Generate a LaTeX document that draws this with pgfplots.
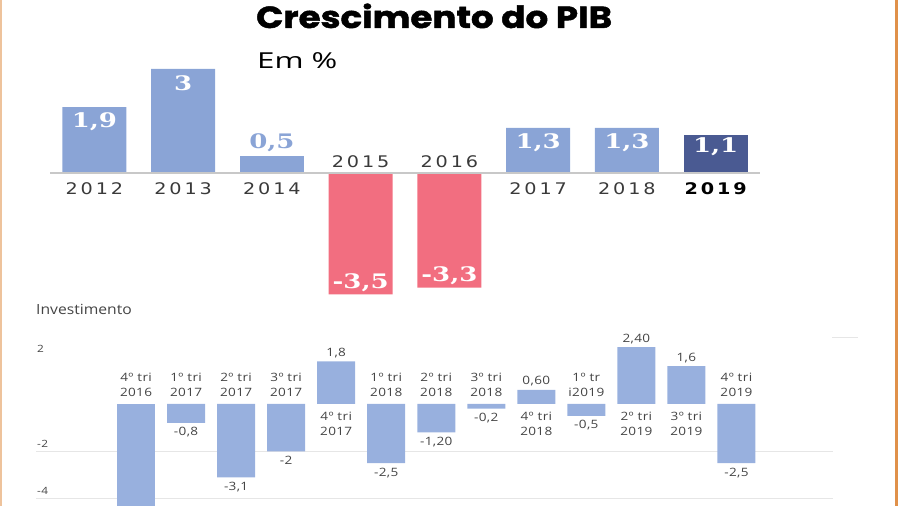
\documentclass[border=0pt]{standalone}
\usepackage{fontspec}
\setmainfont{Open Sans}
\usepackage{pgfplots}
\usepackage{pgfplotstable}
\pgfplotsset{compat=1.18}

\newfontfamily\titlefont[FakeStretch=1.17, BoldFeatures={FakeBold=1.6}]{Poppins}
\newfontfamily\subfont[FakeStretch=1.42]{Open Sans}
\newfontfamily\yearfont[FakeStretch=1.2,LetterSpace=18]{DejaVu Sans}
\newfontfamily\valfont[FakeStretch=1.3]{DejaVu Serif}
\newfontfamily\smallfont[FakeStretch=1.18,LetterSpace=3]{Open Sans}
\newfontfamily\invfont[FakeStretch=1.12]{Open Sans}

\definecolor{barblue}{HTML}{8AA4D6}
\definecolor{lowblue}{HTML}{98B0DE}
\definecolor{barred}{HTML}{F26E80}
\definecolor{bardark}{HTML}{4A5A92}
\definecolor{basegray}{HTML}{C8C8C8}
\definecolor{gridgray}{HTML}{E6E6E6}
\definecolor{txtgray}{HTML}{444444}
\definecolor{yeargray}{HTML}{3A3A3A}
\definecolor{frameorange}{HTML}{E0914A}

% PIB, % a.a.
\pgfplotstableread{
x y lab
0 1.9 1,9
1 3.0 3
5 1.3 1,3
6 1.3 1,3
}\pibblue
\pgfplotstableread{
x y lab
2 0.5 0,5
}\pibsmall
\pgfplotstableread{
x y lab
3 -3.5 -3,5
4 -3.3 -3,3
}\pibred
\pgfplotstableread{
x y lab
7 1.1 1,1
}\pibdark

% Investimento, trimestral (4o tri 2016 sai do quadro)
\pgfplotstableread{
x y
0 -4.8
}\invcut
\pgfplotstableread{
x y lab
1 -0.8 -0,8
2 -3.1 -3,1
3 -2.0 -2
5 -2.5 -2,5
6 -1.2 -1,20
7 -0.2 -0,2
9 -0.5 -0,5
12 -2.5 -2,5
}\invneg
\pgfplotstableread{
x y lab
4 1.8 1,8
8 0.6 0,60
10 2.4 2,40
11 1.6 1,6
}\invpos

\tikzset{
  yearlab/.style={font=\yearfont\fontsize{16}{16}\selectfont, text=yeargray, inner sep=0pt, anchor=center},
  catup/.style={font=\smallfont\fontsize{11.5}{15}\selectfont, text=txtgray, inner sep=0pt, anchor=south, align=center, yshift=7pt},
  catdn/.style={font=\smallfont\fontsize{11.5}{15}\selectfont, text=txtgray, inner sep=0pt, anchor=north, align=center, yshift=-8pt},
}

\begin{document}
\begin{tikzpicture}
\useasboundingbox (0,0) rectangle (900pt,506pt);
\clip (0,0) rectangle (900pt,506pt);

% moldura
\fill[frameorange] (894.5pt,0) rectangle (898pt,506pt);
\fill[frameorange!55] (0,0) rectangle (2pt,506pt);

% titulos
\node[anchor=base west, inner sep=0pt] at (256pt,478pt)
  {\titlefont\bfseries\fontsize{30.5}{31}\selectfont Crescimento do PIB};
\node[anchor=base west, inner sep=0pt] at (257pt,437pt)
  {\subfont\fontsize{22}{22}\selectfont Em \%};
\node[anchor=base west, inner sep=0pt, text=txtgray] at (36pt,191pt)
  {\invfont\fontsize{14}{14}\selectfont Investimento};

% ---- PIB ----
\begin{axis}[
  at={(50pt,194.2pt)}, anchor=south west,
  scale only axis, width=710pt, height=249.84pt,
  xmin=-0.5, xmax=7.5, ymin=-4, ymax=3.2,
  axis line style={draw=none}, tick style={draw=none},
  xtick=\empty, ytick=\empty,
  clip=false,
  ybar, bar width=64pt,
]
\addplot[fill=barblue, draw=none, bar shift=0pt,
  nodes near coords, point meta=explicit symbolic,
  every node near coord/.append style={anchor=center, yshift=-14.5pt, text=white,
    font=\valfont\bfseries\fontsize{20}{20}\selectfont}]
  table[x=x, y=y, meta=lab] {\pibblue};
\addplot[fill=barblue, draw=none, bar shift=0pt,
  nodes near coords, point meta=explicit symbolic,
  every node near coord/.append style={anchor=center, yshift=13pt, text=barblue,
    font=\valfont\bfseries\fontsize{20}{20}\selectfont}]
  table[x=x, y=y, meta=lab] {\pibsmall};
\addplot[fill=barred, draw=none, bar shift=0pt,
  nodes near coords, point meta=explicit symbolic,
  every node near coord/.append style={anchor=center, yshift=11.5pt, text=white,
    font=\valfont\bfseries\fontsize{20}{20}\selectfont}]
  table[x=x, y=y, meta=lab] {\pibred};
\addplot[fill=bardark, draw=none, bar shift=0pt,
  nodes near coords, point meta=explicit symbolic,
  every node near coord/.append style={anchor=center, yshift=-12pt, text=white,
    font=\valfont\bfseries\fontsize{20}{20}\selectfont}]
  table[x=x, y=y, meta=lab] {\pibdark};
\draw[basegray, line width=2pt] (axis cs:-0.5,0) -- (axis cs:7.5,0);
\node[yearlab] at (axis cs:0,0) [yshift=-16pt] {2012};
\node[yearlab] at (axis cs:1,0) [yshift=-16pt] {2013};
\node[yearlab] at (axis cs:2,0) [yshift=-16pt] {2014};
\node[yearlab] at (axis cs:3,0) [yshift=11pt] {2015};
\node[yearlab] at (axis cs:4,0) [yshift=11pt] {2016};
\node[yearlab] at (axis cs:5,0) [yshift=-16pt] {2017};
\node[yearlab] at (axis cs:6,0) [yshift=-16pt] {2018};
\node[yearlab, text=black] at (axis cs:7,0) [yshift=-16pt] {\bfseries 2019};
\end{axis}

% ---- Investimento ----
\draw[gridgray, line width=0.8pt] (832pt,169pt) -- (858pt,169pt);
\begin{axis}[
  at={(36pt,-4.65pt)}, anchor=south west,
  scale only axis, width=797pt, height=168.27pt,
  xmin=-2, xmax=13.93, ymin=-4.5, ymax=2.6,
  axis line style={draw=none}, tick style={draw=none},
  xtick=\empty,
  ytick={-4,-2}, yticklabels={-4,-2},
  extra y ticks={2}, extra y tick labels={2},
  extra y tick style={grid=none},
  ymajorgrids, major grid style={gridgray, line width=0.8pt},
  yticklabel style={anchor=west, inner sep=0pt, yshift=8pt, xshift=1pt, text=txtgray,
    font=\smallfont\fontsize{10}{10}\selectfont},
  clip=false,
  ybar, bar width=38pt,
]
\addplot[fill=lowblue, draw=none, bar shift=0pt] table[x=x, y=y] {\invcut};
\addplot[fill=lowblue, draw=none, bar shift=0pt,
  nodes near coords, point meta=explicit symbolic,
  every node near coord/.append style={anchor=north, yshift=-1pt, text=txtgray,
    font=\smallfont\fontsize{11.5}{12}\selectfont}]
  table[x=x, y=y, meta=lab] {\invneg};
\addplot[fill=lowblue, draw=none, bar shift=0pt,
  nodes near coords, point meta=explicit symbolic,
  every node near coord/.append style={anchor=south, text=txtgray,
    font=\smallfont\fontsize{11.5}{12}\selectfont}]
  table[x=x, y=y, meta=lab] {\invpos};
\node[catup] at (axis cs:0,0) {4º tri\\2016};
\node[catup] at (axis cs:1,0) {1º tri\\2017};
\node[catup] at (axis cs:2,0) {2º tri\\2017};
\node[catup] at (axis cs:3,0) {3º tri\\2017};
\node[catdn] at (axis cs:4,0) {4º tri\\2017};
\node[catup] at (axis cs:5,0) {1º tri\\2018};
\node[catup] at (axis cs:6,0) {2º tri\\2018};
\node[catup] at (axis cs:7,0) {3º tri\\2018};
\node[catdn] at (axis cs:8,0) {4º tri\\2018};
\node[catup] at (axis cs:9,0) {1º tr\\i2019};
\node[catdn] at (axis cs:10,0) {2º tri\\2019};
\node[catdn] at (axis cs:11,0) {3º tri\\2019};
\node[catup] at (axis cs:12,0) {4º tri\\2019};
\end{axis}
\end{tikzpicture}
\end{document}
